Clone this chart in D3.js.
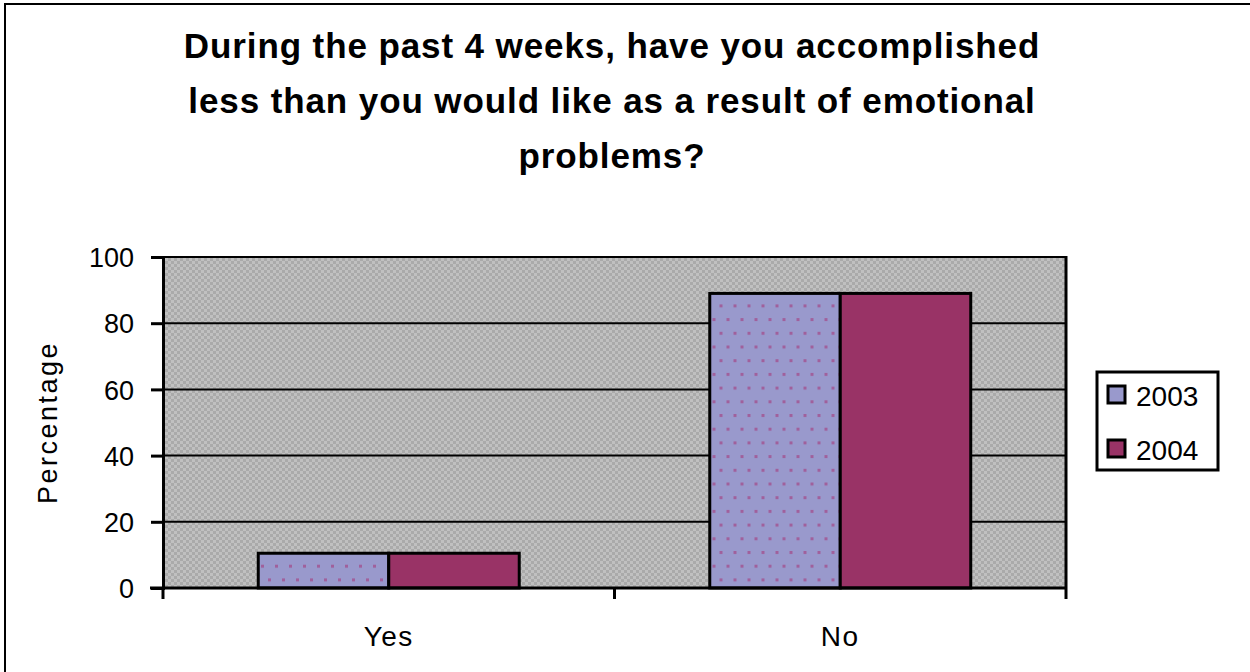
<!DOCTYPE html>
<html lang="en">
<head>
<meta charset="UTF-8" />
<title>Accomplished less - emotional problems</title>
<script src="https://cdnjs.cloudflare.com/ajax/libs/d3/7.8.5/d3.min.js"></script>
<style>
  html, body { margin: 0; padding: 0; background: #fff; }
  svg { display: block; }
  text { font-family: 'Liberation Sans', Arial, sans-serif; fill: #000; }
  .title { font-size: 35px; font-weight: bold; letter-spacing: 0.9px; }
  .tick-label { font-size: 27px; }
  .cat-label { font-size: 28px; letter-spacing: 1.5px; }
  .legend-label { font-size: 28px; }
  .axis-label { font-size: 27px; letter-spacing: 2.5px; }
</style>
</head>
<body>
<svg id="chart" width="1250" height="672"></svg>
<script>
// data
const categories = ['Yes', 'No'];
const years = ['2003', '2004'];
const values2003 = [10.5, 89];
const values2004 = [10.5, 89];
const yTicks = [0, 20, 40, 60, 80, 100];
const titleLines = [
  'During the past 4 weeks, have you accomplished',
  'less than you would like as a result of emotional',
  'problems?'
];

const rows = categories.map((c, i) => ({ cat: c, vals: [values2003[i], values2004[i]] }));

const svg = d3.select('#chart');

// plot area
const plot = { left: 163, right: 1066, top: 257, bottom: 588 };

const defs = svg.append('defs');

// dithered gray background
const bg = defs.append('pattern')
  .attr('id', 'grayCheck')
  .attr('patternUnits', 'userSpaceOnUse')
  .attr('width', 6).attr('height', 6);
bg.append('rect').attr('width', 6).attr('height', 6).attr('fill', '#c0c0c0');
bg.append('rect').attr('width', 3).attr('height', 3).attr('fill', '#aaaaaa');
bg.append('rect').attr('x', 3).attr('y', 3).attr('width', 3).attr('height', 3).attr('fill', '#aaaaaa');

// dotted lavender fill for 2003
const dots = defs.append('pattern')
  .attr('id', 'dots2003')
  .attr('patternUnits', 'userSpaceOnUse')
  .attr('x', 3).attr('y', 3)
  .attr('width', 14).attr('height', 27.4);
dots.append('rect').attr('width', 14).attr('height', 27.4).attr('fill', '#9999cc');
dots.append('rect').attr('x', 4).attr('y', 0).attr('width', 3).attr('height', 3).attr('fill', '#a0609c');
dots.append('rect').attr('x', 11).attr('y', 13.7).attr('width', 3).attr('height', 3).attr('fill', '#a0609c');

const fills = ['url(#dots2003)', '#993366'];
const swatchFills = ['#9999cc', '#993366'];

// outer frame
svg.append('rect')
  .attr('x', 5).attr('y', 4)
  .attr('width', 1260).attr('height', 680)
  .attr('fill', 'none')
  .attr('stroke', '#000')
  .attr('stroke-width', 2);

// title
svg.append('text')
  .attr('class', 'title')
  .attr('text-anchor', 'middle')
  .selectAll('tspan')
  .data(titleLines)
  .enter()
  .append('tspan')
  .attr('x', 612)
  .attr('y', (d, i) => 58 + i * 55)
  .text(d => d);

const x0 = d3.scaleBand()
  .domain(categories)
  .range([plot.left, plot.right])
  .paddingInner(0)
  .paddingOuter(0);

const x1 = d3.scaleBand()
  .domain(years)
  .range([0, x0.bandwidth()])
  .paddingInner(0)
  .paddingOuter(0.73);

const y = d3.scaleLinear()
  .domain([0, 100])
  .range([plot.bottom, plot.top]);

// background
svg.append('rect')
  .attr('x', plot.left).attr('y', plot.top)
  .attr('width', plot.right - plot.left)
  .attr('height', plot.bottom - plot.top)
  .attr('fill', 'url(#grayCheck)');

// grid lines
svg.append('g')
  .selectAll('line')
  .data(yTicks.filter(t => t > 0))
  .enter()
  .append('line')
  .attr('x1', plot.left).attr('x2', plot.right)
  .attr('y1', d => y(d)).attr('y2', d => y(d))
  .attr('stroke', '#000')
  .attr('stroke-width', 2);

// plot right border
svg.append('line')
  .attr('x1', plot.right).attr('x2', plot.right)
  .attr('y1', plot.top - 1).attr('y2', plot.bottom)
  .attr('stroke', '#000')
  .attr('stroke-width', 3);

// bars
const groups = svg.append('g')
  .selectAll('g')
  .data(rows)
  .enter()
  .append('g')
  .attr('transform', d => `translate(${x0(d.cat)},0)`);

groups.selectAll('rect')
  .data(d => d.vals.map((v, i) => ({ year: years[i], v: v, i: i })))
  .enter()
  .append('rect')
  .attr('x', d => x1(d.year))
  .attr('y', d => y(d.v))
  .attr('width', x1.bandwidth())
  .attr('height', d => y(0) - y(d.v))
  .attr('fill', d => fills[d.i])
  .attr('stroke', '#000')
  .attr('stroke-width', 3);

// y axis
const yAxis = svg.append('g')
  .attr('transform', `translate(${plot.left},0)`)
  .call(d3.axisLeft(y).tickValues(yTicks).tickSize(12).tickPadding(17));
yAxis.attr('font-size', null).attr('font-family', null);
yAxis.select('.domain').attr('stroke', '#000').attr('stroke-width', 3);
yAxis.selectAll('.tick line').attr('stroke', '#000').attr('stroke-width', 3);
yAxis.selectAll('.tick text')
  .attr('class', 'tick-label')
  .attr('dy', '0.36em');

// x axis (ticks at category boundaries)
const xAxis = svg.append('g')
  .attr('transform', `translate(0,${plot.bottom})`);
xAxis.append('line')
  .attr('x1', plot.left - 13).attr('x2', plot.right + 1)
  .attr('y1', 0).attr('y2', 0)
  .attr('stroke', '#000').attr('stroke-width', 3);
const bounds = categories.map(c => x0(c)).concat([x0(categories[categories.length - 1]) + x0.bandwidth()]);
xAxis.selectAll('.xtick')
  .data(bounds)
  .enter()
  .append('line')
  .attr('x1', d => d).attr('x2', d => d)
  .attr('y1', 0).attr('y2', 11)
  .attr('stroke', '#000').attr('stroke-width', 3);
xAxis.selectAll('.xlabel')
  .data(categories)
  .enter()
  .append('text')
  .attr('class', 'cat-label')
  .attr('x', d => x0(d) + x0.bandwidth() / 2)
  .attr('y', 58)
  .attr('text-anchor', 'middle')
  .text(d => d);

// y axis label
svg.append('text')
  .attr('class', 'axis-label')
  .attr('transform', `translate(57, ${(plot.top + plot.bottom) / 2}) rotate(-90)`)
  .attr('text-anchor', 'middle')
  .text('Percentage');

// legend
const legend = svg.append('g');
legend.append('rect')
  .attr('x', 1097).attr('y', 372)
  .attr('width', 121).attr('height', 98)
  .attr('fill', '#fff')
  .attr('stroke', '#000')
  .attr('stroke-width', 3);
const items = legend.selectAll('.item')
  .data(years)
  .enter()
  .append('g')
  .attr('transform', (d, i) => `translate(1108, ${386 + i * 54})`);
items.append('rect')
  .attr('width', 17).attr('height', 17)
  .attr('fill', (d, i) => swatchFills[i])
  .attr('stroke', '#000')
  .attr('stroke-width', 3);
items.append('text')
  .attr('class', 'legend-label')
  .attr('x', 28)
  .attr('y', 20)
  .text(d => d);
</script>
</body>
</html>
